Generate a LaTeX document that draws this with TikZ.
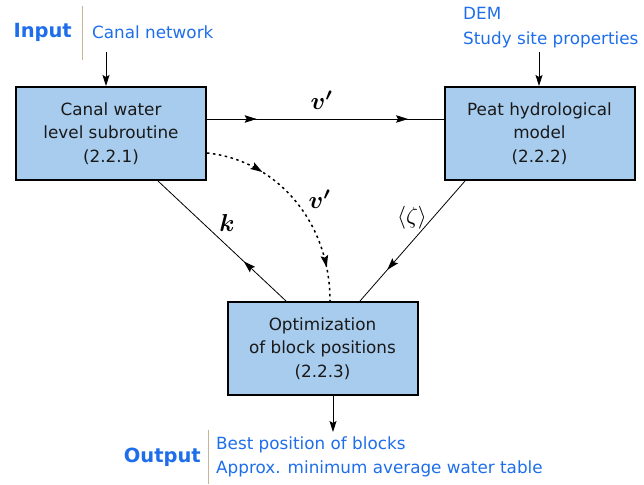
\documentclass[tikz,border=0pt]{standalone}
\usepackage{fontspec}
\setmainfont{DejaVu Sans}
\usepackage{amsmath,bm,graphicx}
\usetikzlibrary{arrows.meta,decorations.markings}
\definecolor{boxblue}{RGB}{168,204,238}
\definecolor{txtblue}{RGB}{30,110,235}
\definecolor{sepline}{RGB}{200,180,150}
\newcommand{\mlbl}[1]{\scalebox{2.45}{$#1$}}

\begin{document}
\begin{tikzpicture}[x=1pt,y=-1pt,
  box/.style={draw=black,line width=2pt,fill=boxblue,minimum width=190pt,minimum height=93pt,
    align=center,text=black!90,font=\fontsize{16.8}{23.5}\selectfont},
  iohead/.style={text=txtblue,inner sep=0pt,font=\fontsize{19.5}{22}\selectfont\bfseries},
  iotext/.style={text=txtblue,inner sep=0pt,align=left,font=\fontsize{16.8}{24.5}\selectfont},
  lbl/.style={inner sep=0pt,font=\normalsize},
  conn/.style={line width=0.8pt,-{Stealth[length=11pt,width=7pt,inset=2pt]}},
  flow/.style={line width=0.8pt},
  midarrow/.style={postaction={decorate,decoration={markings,
    mark=at position #1 with {\arrow{Stealth[length=12pt,width=7.5pt,inset=2pt]}}}}},
  dots/.style={line width=1.5pt,dash pattern=on 2.5pt off 3.5pt}]
  \useasboundingbox (0,0) rectangle (644,484);

  % the three blocks
  \node[box] (canal) at (111,133.5) {Canal water\\level subroutine\\(2.2.1)};
  \node[box] (peat) at (539.5,133.5) {Peat hydrological\\model\\(2.2.2)};
  \node[box] (optim) at (322.5,348.5) {Optimization\\of block positions\\(2.2.3)};

  % input
  \node[iohead,anchor=east] (inhead) at (72,32) {Input};
  \node[iotext,anchor=west] (intext) at (92,32) {Canal network};
  \draw[sepline,line width=0.8pt] (82,6) -- (82,60);
  \coordinate (intop) at (106,52);
  \draw[conn] (intop) -- (intop |- canal.north);

  \node[iotext,anchor=west] (demtext) at (463,27.5) {DEM\\Study site properties};
  \coordinate (demtop) at (539,52);
  \draw[conn] (demtop) -- (demtop |- peat.north);

  % flows between blocks
  \draw[flow,midarrow=0.21,midarrow=0.85] ([yshift=14.5pt]canal.east) -- ([yshift=14.5pt]peat.west);
  \node[lbl] (vtop) at (322,100) {\mlbl{\bm{v'}}};

  \draw[dots,midarrow=0.28,midarrow=0.84] ([yshift=-19.5pt]canal.east)
    .. controls (275,160) and (330,220) .. ([xshift=7.5pt]optim.north);
  \node[lbl] (vmid) at (320,199) {\mlbl{\bm{v'}}};

  \draw[flow,midarrow=0.33] ([xshift=-36.5pt]optim.north) -- ([xshift=47pt]canal.south);
  \node[lbl] (klbl) at (227,223) {\mlbl{\bm{k}}};

  \draw[flow,midarrow=0.74] ([xshift=-74.5pt]peat.south) -- ([xshift=37.5pt]optim.north);
  \node[lbl] (zlbl) at (412,218) {\scalebox{2.3}{$\langle\zeta\rangle$}};

  % output
  \coordinate (outbot) at (333,432);
  \draw[conn] ([xshift=10.5pt]optim.south) -- (outbot);
  \node[iohead,anchor=east] (outhead) at (201,457) {Output};
  \node[iotext,anchor=west] (outtext) at (216,457) {Best position of blocks\\Approx. minimum average water table};
  \draw[sepline,line width=0.8pt] (208,430) -- (208,484);
\end{tikzpicture}
\end{document}
